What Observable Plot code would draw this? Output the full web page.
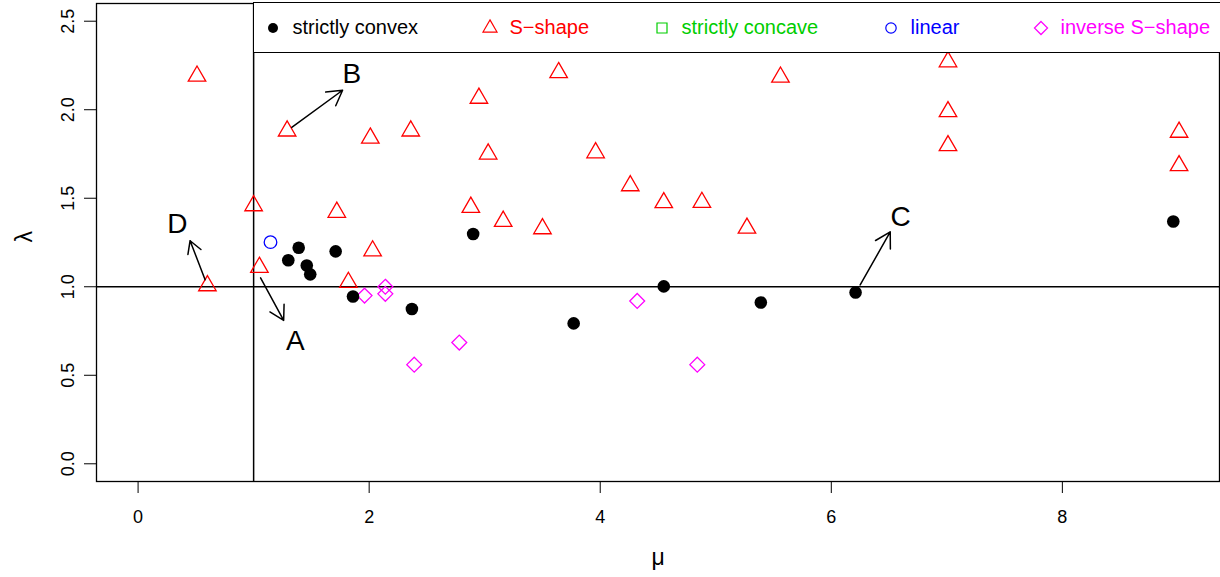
<!DOCTYPE html>
<html><head><meta charset="utf-8">
<script src="https://cdn.jsdelivr.net/npm/d3@7"></script>
<script src="https://cdn.jsdelivr.net/npm/@observablehq/plot@0.6"></script>
<style>
body{margin:0;background:#fff;}
#wrap{position:relative;width:1220px;height:577px;overflow:hidden;font-family:"Liberation Sans",Arial,Helvetica,sans-serif;}
#legend{position:absolute;left:253px;top:2px;width:1000px;height:51px;border:1.5px solid #000;background:#fff;box-sizing:border-box;}
.item{position:absolute;top:0;height:100%;display:flex;align-items:center;font-size:20px;white-space:nowrap;}
.item svg{flex:none;margin-right:9.5px;}
</style></head><body><div id="wrap"></div>
<script>
// ---- data ----
const categories = ["strictly convex", "S\u2212shape", "strictly concave", "linear", "inverse S\u2212shape"];
const catColors = ["#000000", "#FF0000", "#00CD00", "#0000FF", "#FF00FF"];

const convexMu  = [1.30, 1.39, 1.46, 1.49, 1.71, 1.86, 2.37, 2.90, 3.77, 4.55, 5.39, 6.21, 8.96];
const convexLam = [1.15, 1.22, 1.12, 1.07, 1.20, 0.945, 0.874, 1.298, 0.793, 1.002, 0.911, 0.968, 1.369];

const sMu  = [0.51, 1.29, 2.01, 2.36, 2.95, 3.03, 3.64, 3.96, 4.26, 4.55, 4.88, 5.27, 5.56, 7.01, 7.01, 7.01, 9.01, 9.01, 1.00, 1.72, 2.03, 1.82, 1.05, 0.60, 2.88, 3.16, 3.50];
const sLam = [2.19, 1.88, 1.84, 1.88, 2.065, 1.75, 2.21, 1.757, 1.571, 1.475, 1.477, 1.331, 2.184, 2.271, 1.989, 1.797, 1.873, 1.684, 1.458, 1.421, 1.203, 1.025, 1.110, 1.006, 1.449, 1.370, 1.328];

const concaveMu = [];
const concaveLam = [];

const linearMu  = [1.146];
const linearLam = [1.252];

const invMu  = [1.96, 2.14, 2.14, 2.39, 2.78, 4.32, 4.84];
const invLam = [0.95, 1.00, 0.96, 0.56, 0.685, 0.92, 0.56];

const annLabel = ["A", "B", "C", "D"];
const annFromMu  = [1.06, 1.33, 6.25, 0.58];
const annFromLam = [1.05, 1.90, 1.01, 1.04];
const annToMu    = [1.26, 1.77, 6.51, 0.45];
const annToLam   = [0.81, 2.11, 1.31, 1.26];
const annTextMu  = [1.36, 1.85, 6.60, 0.34];
const annTextLam = [0.695, 2.20, 1.395, 1.355];

const xTicks = [0, 2, 4, 6, 8];
const yTicks = [0, 0.5, 1, 1.5, 2, 2.5];
const refMu = [1];
const refLam = [1];

// ---- tables ----
const pts = (xs, ys) => xs.map((x, i) => ({x, y: ys[i]}));
const convex = pts(convexMu, convexLam);
const sshape = pts(sMu, sLam);
const concave = pts(concaveMu, concaveLam);
const linear = pts(linearMu, linearLam);
const inverse = pts(invMu, invLam);
const ann = annLabel.map((label, i) => ({
  label, x1: annFromMu[i], y1: annFromLam[i], x2: annToMu[i], y2: annToLam[i], tx: annTextMu[i], ty: annTextLam[i]
}));

const font = '"Liberation Sans", Arial, Helvetica, sans-serif';

const chart = Plot.plot({
  width: 1220, height: 577,
  marginLeft: 96, marginRight: 1, marginTop: 3, marginBottom: 96,
  x: {domain: [-0.36, 9.36]},
  y: {domain: [-0.1, 2.6]},
  style: {fontFamily: font, fontSize: "18px", background: "white", color: "black"},
  marks: [
    Plot.ruleX(refMu, {stroke: "black", strokeWidth: 1.5}),
    Plot.ruleY(refLam, {stroke: "black", strokeWidth: 1.5}),
    Plot.axisX({ticks: xTicks, tickSize: 12, tickPadding: 17, fontSize: 18, label: null, tickFormat: d3.format("d")}),
    Plot.axisY({ticks: yTicks, tickSize: 12, tickFormat: () => "", label: null}),
    Plot.text(yTicks, {y: d => d, text: d => d3.format(".1f")(d), frameAnchor: "left", dx: -23, rotate: -90, textAnchor: "middle", lineAnchor: "bottom", fontSize: 18}),
    Plot.text(["\u03bc"], {text: d => d, frameAnchor: "bottom", dy: 83, fontSize: 23}),
    Plot.text(["\u03bb"], {text: d => d, frameAnchor: "left", dx: -72, rotate: -90, fontSize: 23}),
    Plot.dot(sshape, {x: "x", y: "y", r: 6.5, symbol: "triangle", fill: "none", stroke: catColors[1], strokeWidth: 1.3}),
    Plot.dot(concave, {x: "x", y: "y", r: 6, symbol: "square", fill: "none", stroke: catColors[2], strokeWidth: 1.3}),
    Plot.dot(linear, {x: "x", y: "y", r: 6.3, symbol: "circle", fill: "none", stroke: catColors[3], strokeWidth: 1.3}),
    Plot.dot(inverse, {x: "x", y: "y", r: 6.7, symbol: "diamond2", fill: "none", stroke: catColors[4], strokeWidth: 1.3}),
    Plot.dot(convex, {x: "x", y: "y", r: 6.3, symbol: "circle", fill: catColors[0], stroke: "none"}),
    Plot.arrow(ann, {x1: "x1", y1: "y1", x2: "x2", y2: "y2", stroke: "black", strokeWidth: 1.5, headLength: 17, headAngle: 60}),
    Plot.text(ann, {x: "tx", y: "ty", text: "label", fontSize: 28, fill: "black"}),
    Plot.frame({stroke: "black", strokeWidth: 1.3})
  ]
});

const wrap = document.getElementById("wrap");
wrap.appendChild(chart);

// ---- legend (HTML overlay) ----
const legend = document.createElement("div");
legend.id = "legend";
wrap.appendChild(legend);
const legendSymbols = [
  {type: d3.symbolCircle, size: Math.PI * 5 * 5, filled: true},
  {type: d3.symbolTriangle, size: Math.PI * 5.2 * 5.2, filled: false},
  {type: d3.symbolSquare, size: 100, filled: false},
  {type: d3.symbolCircle, size: Math.PI * 5.2 * 5.2, filled: false},
  {type: d3.symbolDiamond2, size: Math.PI * 5.9 * 5.9, filled: false}
];
const legendCenters = [19, 236, 408, 637, 787];
categories.forEach((cat, i) => {
  const it = document.createElement("div");
  it.className = "item";
  it.style.left = (legendCenters[i] - 10) + "px";
  it.style.color = catColors[i];
  const s = legendSymbols[i];
  const path = d3.symbol(s.type, s.size)();
  it.innerHTML = `<svg width="20" height="20" viewBox="-10 -10 20 20"><path d="${path}" fill="${s.filled ? catColors[i] : "none"}" stroke="${s.filled ? "none" : catColors[i]}" stroke-width="1.2"/></svg><span>${cat}</span>`;
  legend.appendChild(it);
});
</script>
</body></html>
